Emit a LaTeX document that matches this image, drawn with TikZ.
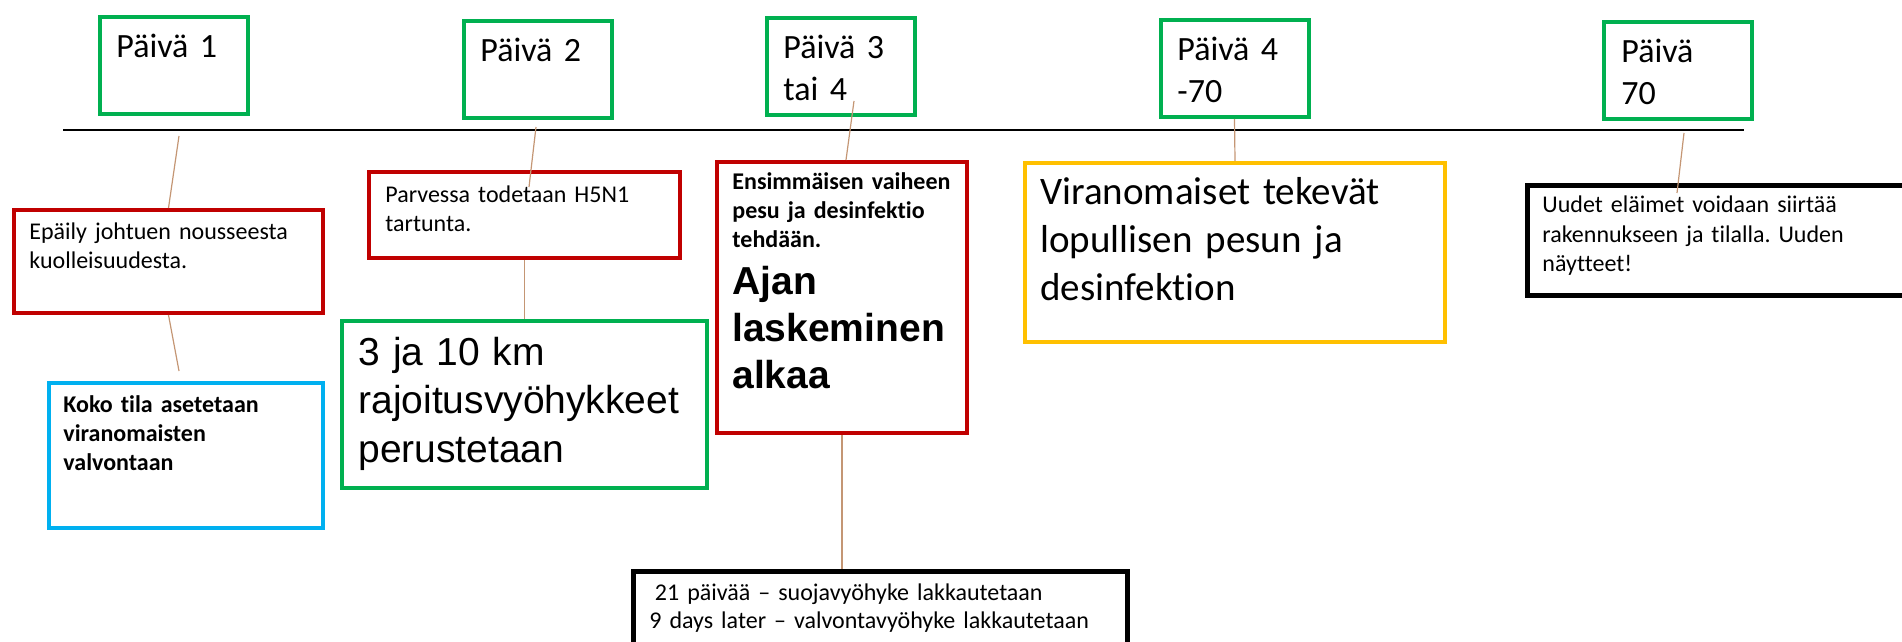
\documentclass[tikz,border=0pt]{standalone}
\usepackage{fontspec}
\setmainfont{Carlito}[Ligatures={NoCommon}]
\newfontfamily\arialfont{Liberation Sans}
\usepackage{tikz}
\frenchspacing
\definecolor{boxgreen}{RGB}{0,176,80}
\definecolor{boxred}{RGB}{192,0,0}
\definecolor{boxblue}{RGB}{0,176,240}
\definecolor{boxyellow}{RGB}{255,192,0}
\definecolor{linktan}{RGB}{196,150,116}

\begin{document}
\begin{tikzpicture}[x=0.5pt,y=-0.5pt,
    box/.style={rectangle, draw, line width=2pt, inner sep=0pt},
    daybox/.style={box, draw=boxgreen, minimum width=74pt, minimum height=48.5pt},
    txt/.style={anchor=base west, inner sep=0pt, text width=#1, align=left},
    txt/.default=300pt,
    day/.style={font=\fontsize{17}{21}\selectfont},
    small/.style={font=\fontsize{12}{14.25}\selectfont},
    smallb/.style={font=\fontsize{12}{14.5}\selectfont\bfseries},
    big/.style={font=\fontsize{19.5}{24}\selectfont},
    link/.style={draw=linktan, line width=0.6pt}]
    \useasboundingbox (0,0) rectangle (1902,642);

    % time line
    \coordinate (t0) at (63,130);
    \coordinate (t1) at (1744,130);
    \draw [line width=0.75pt] (t0) -- (t1);

    % days
    \node[daybox] (p1) at (173.5,65.5) {};
    \node[txt, day] (p1t) at (116,58) {Päivä 1};
    \node[daybox] (p2) at (537.5,69.5) {};
    \node[txt, day] (p2t) at (480,62) {Päivä 2};
    \node[daybox] (p3) at (841,66.5) {};
    \node[txt, day] (p3t) at (783,59) {Päivä 3\\tai 4};
    \node[daybox] (p4) at (1234.5,68.5) {};
    \node[txt, day] (p4t) at (1177,61) {Päivä 4\\-70};
    \node[daybox] (p5) at (1678,71) {};
    \node[txt, day] (p5t) at (1621,63) {Päivä\\70};

    % events
    \node[box, draw=boxred, minimum width=154.5pt, minimum height=51.5pt] (ep) at (168.5,261.5) {};
    \node[txt, small] (ept) at (29,240) {Epäily johtuen nousseesta\\kuolleisuudesta.};

    \node[box, draw=boxblue, minimum width=137pt, minimum height=72.5pt] (ko) at (186,455.5) {};
    \node[txt, smallb] (kot) at (63,412) {Koko tila asetetaan\\viranomaisten\\valvontaan};

    \node[box, draw=boxred, minimum width=155.5pt, minimum height=43pt] (pa) at (524.5,215) {};
    \node[txt, small] (pat) at (385,203) {Parvessa todetaan H5N1\\tartunta.};

    \node[box, draw=boxgreen, minimum width=182.5pt, minimum height=83.5pt] (tz) at (524.5,404.5) {};
    \node[txt, font=\arialfont\fontsize{19.5}{24.25}\selectfont] (tzt) at (358,365) {3 ja 10 km\\rajoitusvyöhykkeet\\perustetaan};

    \node[box, draw=boxred, minimum width=125pt, minimum height=135.5pt] (en) at (842,297.5) {};
    \node[txt, smallb] (ent) at (732,190) {Ensimmäisen vaiheen\\pesu ja desinfektio\\tehdään.};
    \node[txt, font=\arialfont\bfseries\fontsize{19.5}{23.5}\selectfont] (ajt) at (732,294) {Ajan\\laskeminen\\alkaa};

    \node[box, draw=boxyellow, minimum width=210pt, minimum height=89.5pt] (vi) at (1235,252.5) {};
    \node[txt, big] (vit) at (1040,205) {Viranomaiset tekevät\\lopullisen pesun ja\\desinfektion};

    \node[box, line width=2.5pt, minimum width=216.25pt, minimum height=55pt] (uu) at (1743.75,240.5) {};
    \node[txt, font=\fontsize{12}{14.75}\selectfont] (uut) at (1542,213) {Uudet eläimet voidaan siirtää\\rakennukseen ja tilalla. Uuden\\näytteet!};

    \node[box, line width=2.5pt, minimum width=247pt, minimum height=64.25pt] (lk) at (880.5,635.75) {};
    \node[txt, small] (lkt) at (649,600) {\hspace*{0.23em}21 päivää – suojavyöhyke lakkautetaan\\9 days later – valvontavyöhyke lakkautetaan};

    % connectors
    \coordinate (a1) at (179,136);
    \coordinate (a2) at (179,371);
    \draw [link] (a1) -- (ep.north);
    \draw [link] (ep.south) -- (a2);
    \coordinate (b1) at (536,127);
    \coordinate (b2) at (529,187);
    \draw [link] (b1) -- (b2);
    \draw [link] (pa.south) -- (tz.north);
    \coordinate (c1) at (854,101);
    \draw [link] (c1) -- ([xshift=2pt]en.north);
    \draw [link] (en.south) -- (en.south |- lk.north);
    \draw [link] (p4.south) -- (vi.north);
    \coordinate (d1) at (1684,133);
    \coordinate (d2) at (1677,193);
    \draw [link] (d1) -- (d2);
\end{tikzpicture}
\end{document}
